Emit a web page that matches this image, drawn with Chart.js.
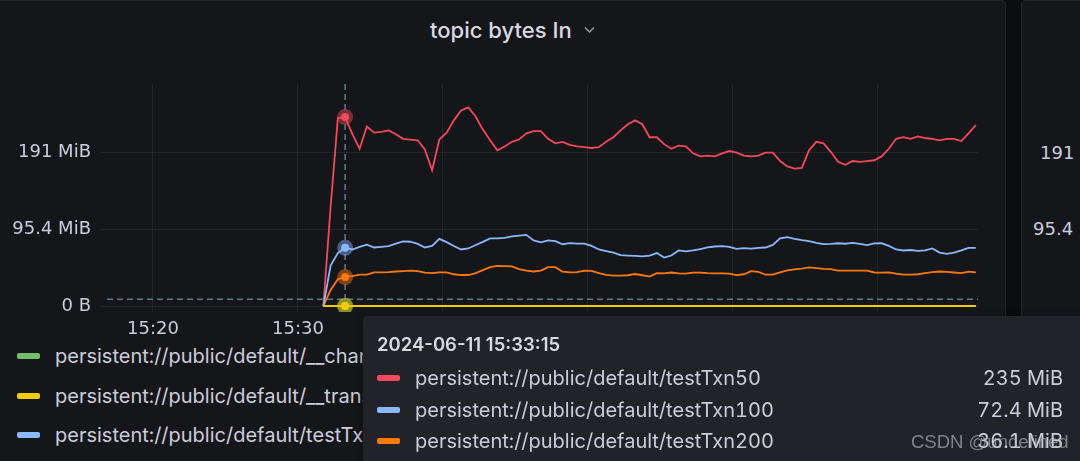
<!DOCTYPE html>
<html>
<head>
<meta charset="utf-8">
<script src="https://cdn.jsdelivr.net/npm/chart.js@4.4.1/dist/chart.umd.min.js"></script>
<style>
  body { margin: 0; width: 1080px; height: 461px; overflow: hidden; background: #0b0c0e; position: relative;
         font-family: Inter, "Noto Sans", sans-serif; color: #ccccdc; font-variant-numeric: tabular-nums; }
  .panel { position: absolute; top: 0; height: 490px; background: #15161a; border: 1px solid #23252a;
           border-radius: 4px; box-sizing: border-box; }
  #title { position: absolute; left: 430px; top: 16px; font-size: 22px; font-weight: 500; line-height: 28px; color: #d8d9e2; }
  #chevron { position: absolute; left: 584px; top: 26px; }
  #wrap { position: absolute; left: 0; top: 70px; width: 1000px; height: 272px; }
  .side { position: absolute; font-family: "DejaVu Sans", sans-serif; font-size: 18px; line-height: 22px; }
  #legend { position: absolute; left: 17px; top: 345px; font-size: 20px; }
  .item { position: absolute; left: 0; white-space: nowrap; height: 22px; line-height: 22px; }
  .sw { position: absolute; left: 0; top: 8px; width: 23px; height: 6px; border-radius: 2px; }
  .item span.t { position: absolute; left: 38px; }
  #tip { position: absolute; left: 363px; top: 316px; width: 760px; height: 220px; background: #212328;
         border-radius: 4px; box-shadow: 0 2px 8px rgba(0,0,0,0.5); }
  #tipHead { position: absolute; left: 14px; top: 17px; font-size: 18.5px; font-weight: 600; line-height: 22px; color: #d8d9e2;
             font-variant-numeric: normal; }
  .row { position: absolute; left: 14px; width: 686px; height: 22px; line-height: 22px; font-size: 20px; white-space: nowrap; }
  .row .sw { top: 8px; }
  .row .name { position: absolute; left: 38px; }
  .row .val { position: absolute; right: 0; }
  #mark { position: absolute; left: 911px; top: 431px; font-family: "Liberation Sans", sans-serif; font-size: 18.5px;
          line-height: 22px; color: rgba(190,190,196,0.62); }
</style>
</head>
<body>
<div class="panel" style="left:-10px; width:1016px;"></div>
<div class="panel" style="left:1021px; width:100px;">
  <div class="side" style="top:141px; left:18px;">191</div>
  <div class="side" style="top:217px; left:11px;">95.4</div>
</div>
<div id="title">topic bytes In</div>
<svg id="chevron" width="11" height="8" viewBox="0 0 11 8"><polyline points="1,1.5 5.5,6 10,1.5" fill="none" stroke="#9a9ba6" stroke-width="1.5"/></svg>
<div id="wrap"><canvas id="topicChart" width="1000" height="272"></canvas></div>
<div id="legend"></div>
<div id="tip"><div id="tipHead"></div></div>
<div id="mark">CSDN @undefined</div>

<script>
// samples every 30 s starting 15:31:45, values in MB (1e6 bytes)
var startMinute = 31.75;   // minutes after 15:00
var stepMinutes = 0.5;
var hoverIndex = 3;        // 15:33:15
var cursorValue = 8.7;     // horizontal crosshair level

var testTxn50 = [0, 129, 245, 246.4, 224, 205, 234, 226, 227, 229, 224, 218, 217, 216, 204, 177, 217, 226, 242, 255,
  259, 247, 230, 216, 203, 208, 214, 217, 225, 228, 228, 218, 212, 214, 210, 208, 207, 206, 207, 214,
  220, 229, 237, 242, 237, 220, 220, 211, 205, 209, 208, 199, 195, 196, 195, 199, 202, 200, 196, 195,
  196, 200, 200, 189, 182, 179, 180, 203, 214, 212, 201, 188, 184, 189, 188, 189, 190, 195, 205, 218,
  220, 218, 221, 219, 218, 216, 218, 218, 215, 225, 236];
var testTxn100 = [0, 52.6, 69, 75.9, 73.7, 77, 80, 76.3, 77.2, 78, 81.2, 84.2, 83.8, 81, 76.3, 78.3, 87.5, 83.3, 78.3, 73.7,
  75, 79.6, 83.6, 88.2, 88.2, 88.8, 90.8, 91.7, 92.8, 85.5, 82.9, 85.5, 84.6, 80.5, 82, 81.2, 81.2, 78.3, 73.7, 71.7,
  69.7, 66.4, 65.8, 65.4, 64.7, 65.8, 69, 63.2, 65.8, 72.4, 71.3, 72.4, 74.3, 76.3, 77.6, 78, 77, 74.6, 75.4, 74.7,
  75.9, 76.3, 79.6, 88.2, 89.9, 87.5, 85.9, 84.7, 82.2, 80.7, 80.9, 81.8, 81.2, 82.2, 80.9, 79.5, 81.6, 81.8, 78.3, 73.7,
  72.4, 73, 72, 72.6, 75, 69.7, 68, 69.5, 72.4, 75.7, 75.7];
var testTxn200 = [0, 21, 34.9, 37.85, 39.1, 41, 40.8, 43.8, 43.8, 44.1, 45, 45.5, 46.1, 45.4, 43.4, 42.8, 43.8, 43.8, 41.4, 40.4,
  40.4, 42.8, 46.7, 50.7, 52.4, 52, 51.7, 48, 46.1, 45, 46.1, 50.7, 50.7, 44.7, 43.8, 44.3, 46.1, 45.7, 42.9, 40.5,
  39.7, 39.5, 40.1, 41.7, 40.1, 38.4, 42.9, 42.6, 43.7, 42.6, 42.1, 43.4, 43.4, 42.8, 42.5, 42.5, 42.1, 40.4, 41.4, 45.4,
  44.5, 40.8, 41, 43.8, 46.4, 47.8, 48.7, 50.3, 49.3, 48.3, 48, 46.1, 46.1, 46.1, 46.1, 46.1, 43.7, 43.4, 43.8, 42.1,
  40.8, 40.8, 41.4, 43, 44.1, 45, 44.5, 43.7, 43, 44.7, 43.8];
var txnBufferSnapshot = [0, 0, 0, 0, 0, 0, 0, 0, 0, 0, 0, 0, 0, 0, 0, 0, 0, 0, 0, 0, 0, 0, 0, 0, 0, 0, 0, 0, 0, 0,
  0, 0, 0, 0, 0, 0, 0, 0, 0, 0, 0, 0, 0, 0, 0, 0, 0, 0, 0, 0, 0, 0, 0, 0, 0, 0, 0, 0, 0, 0,
  0, 0, 0, 0, 0, 0, 0, 0, 0, 0, 0, 0, 0, 0, 0, 0, 0, 0, 0, 0, 0, 0, 0, 0, 0, 0, 0, 0, 0, 0, 0];
var changeEvents = [0, 0, 0, 0, 0, 0, 0, 0, 0, 0, 0, 0, 0, 0, 0, 0, 0, 0, 0, 0, 0, 0, 0, 0, 0, 0, 0, 0, 0, 0,
  0, 0, 0, 0, 0, 0, 0, 0, 0, 0, 0, 0, 0, 0, 0, 0, 0, 0, 0, 0, 0, 0, 0, 0, 0, 0, 0, 0, 0, 0,
  0, 0, 0, 0, 0, 0, 0, 0, 0, 0, 0, 0, 0, 0, 0, 0, 0, 0, 0, 0, 0, 0, 0, 0, 0, 0, 0, 0, 0, 0, 0];

var yTicks = [0, 100, 200];
var xTicks = [20, 30, 40, 50, 60, 70];

var prefix = 'persistent://public/default/';
var series = [
  { name: '__transaction_buffer_snapshot', color: '#F2CC0C', data: txnBufferSnapshot },
  { name: '__change_events', color: '#73BF69', data: changeEvents },
  { name: 'testTxn100', color: '#8AB8FF', data: testTxn100 },
  { name: 'testTxn200', color: '#FF780A', data: testTxn200 },
  { name: 'testTxn50', color: '#F2495C', data: testTxn50 },
];
var legendOrder = ['__change_events', '__transaction_buffer_snapshot', 'testTxn100', 'testTxn200', 'testTxn50'];

function mib(v) {
  if (v === 0) return '0 B';
  return (v * 1e6 / 1048576).toPrecision(3) + ' MiB';
}
function pad(n) { return (n < 10 ? '0' : '') + n; }
function clock(m, withSec) {
  var total = Math.round((15 * 60 + m) * 60);
  var h = Math.floor(total / 3600), mm = Math.floor(total / 60) % 60, s = total % 60;
  return pad(h) + ':' + pad(mm) + (withSec ? ':' + pad(s) : '');
}
function alpha(hex, a) {
  var n = parseInt(hex.slice(1), 16);
  return 'rgba(' + (n >> 16) + ',' + ((n >> 8) & 255) + ',' + (n & 255) + ',' + a + ')';
}

var crosshair = {
  id: 'crosshair',
  beforeDatasetsDraw: function (chart) {
    var c = chart.ctx, a = chart.chartArea;
    var x = chart.scales.x.getPixelForValue(startMinute + hoverIndex * stepMinutes);
    var y = chart.scales.y.getPixelForValue(cursorValue);
    c.save();
    c.strokeStyle = 'rgba(110,140,155,0.85)';
    c.lineWidth = 1.5;
    c.setLineDash([6, 4]);
    c.beginPath();
    c.moveTo(x, a.top); c.lineTo(x, chart.scales.y.getPixelForValue(0));
    c.moveTo(a.left + 7, y); c.lineTo(a.right, y);
    c.stroke();
    c.restore();
  }
};

var tickFont = { family: '"DejaVu Sans"', size: 18 };

var ctx = document.getElementById('topicChart');
var topicChart = new Chart(ctx, {
  type: 'line',
  data: {
    datasets: series.map(function (s) {
      return {
        label: prefix + s.name,
        data: s.data.map(function (v, i) { return { x: startMinute + i * stepMinutes, y: v }; }),
        borderColor: s.color,
        borderWidth: 1.8,
        backgroundColor: s.color,
        tension: 0,
        pointRadius: function (c) { return c.dataIndex === hoverIndex ? 4 : 0; },
        pointBorderWidth: 8,
        pointBorderColor: alpha(s.color, 0.45),
        pointBackgroundColor: s.color,
      };
    }),
  },
  options: {
    responsive: false,
    animation: false,
    devicePixelRatio: 1,
    layout: { padding: { top: 14, right: 22, left: 0, bottom: 0 } },
    plugins: { legend: { display: false }, tooltip: { enabled: false } },
    scales: {
      x: {
        type: 'linear',
        min: 16.345,
        max: 76.9,
        afterBuildTicks: function (scale) { scale.ticks = xTicks.map(function (v) { return { value: v }; }); },
        afterFit: function (scale) { scale.height = 30; scale.paddingLeft = 0; scale.paddingRight = 0; },
        ticks: {
          callback: function (v) { return clock(v, false); },
          color: '#ccccdc',
          font: tickFont,
          padding: 7,
          maxRotation: 0,
        },
        grid: { color: 'rgba(204,204,220,0.08)', drawTicks: false },
        border: { display: false },
      },
      y: {
        min: -7.8,
        max: 289.4,
        afterBuildTicks: function (scale) { scale.ticks = yTicks.map(function (v) { return { value: v }; }); },
        afterFit: function (scale) { scale.width = 100; scale.paddingTop = 0; scale.paddingBottom = 0; },
        ticks: {
          callback: function (v) { return mib(v); },
          color: '#ccccdc',
          font: tickFont,
          padding: 9,
        },
        grid: { color: 'rgba(204,204,220,0.08)', drawTicks: false },
        border: { display: false },
      },
    },
  },
  plugins: [crosshair],
});

// legend list
var legend = document.getElementById('legend');
legendOrder.forEach(function (name, i) {
  var s = series.filter(function (d) { return d.name === name; })[0];
  var el = document.createElement('div');
  el.className = 'item';
  el.style.top = (i * 39.5) + 'px';
  el.innerHTML = '<div class="sw" style="background:' + s.color + '"></div><span class="t">' + prefix + name + '</span>';
  legend.appendChild(el);
});

// hover tooltip
var tip = document.getElementById('tip');
document.getElementById('tipHead').textContent = '2024-06-11 ' + clock(startMinute + hoverIndex * stepMinutes, true);
series.slice().sort(function (a, b) { return b.data[hoverIndex] - a.data[hoverIndex]; }).forEach(function (s, i) {
  var el = document.createElement('div');
  el.className = 'row';
  el.style.top = (51 + i * 31.5) + 'px';
  el.innerHTML = '<div class="sw" style="background:' + s.color + '"></div><span class="name">' + prefix + s.name +
    '</span><span class="val">' + mib(s.data[hoverIndex]) + '</span>';
  tip.appendChild(el);
});
</script>
</body>
</html>
